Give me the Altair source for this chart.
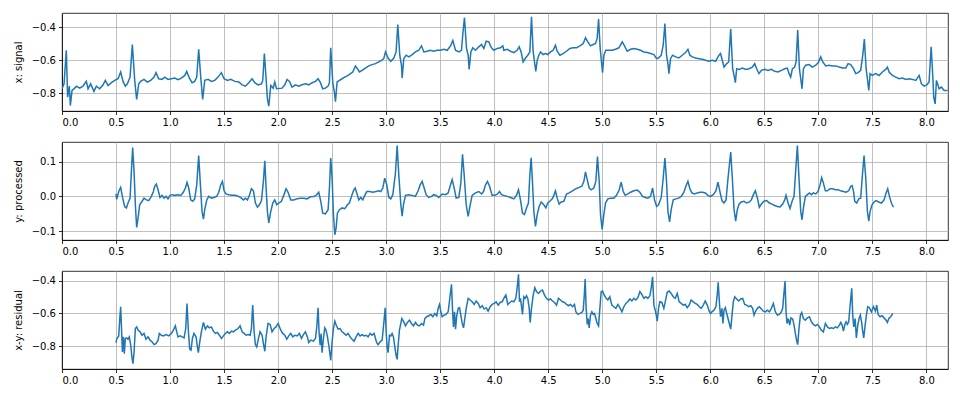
import altair as alt
import pandas as pd

# ---------------- data: x (signal) ----------------
T_SIG = [0.000,0.019,0.040,0.052,0.068,0.077,0.093,0.117,0.133,0.164,0.194,0.225,0.241,0.265,0.296,0.318,0.349,0.380,0.401,0.426,
         0.457,0.488,0.519,0.543,0.565,0.586,0.605,0.630,0.651,0.673,0.691,0.710,0.728,0.759,0.790,0.821,0.852,0.870,0.895,0.926,
         0.951,0.981,1.012,1.043,1.074,1.105,1.136,1.154,1.179,1.204,1.228,1.247,1.265,1.284,1.302,1.321,1.352,1.383,1.414,1.444,
         1.475,1.500,1.531,1.562,1.599,1.636,1.667,1.698,1.728,1.759,1.784,1.815,1.846,1.858,1.873,1.889,1.901,1.914,1.932,1.954,
         1.969,1.985,
         2.037,2.062,2.083,2.105,2.129,2.160,2.191,2.222,2.253,2.284,2.315,2.346,2.370,2.392,2.413,2.438,2.463,2.475,2.487,2.506,
         2.521,2.531,2.546,2.568,2.592,2.617,2.648,2.670,2.691,2.716,2.734,2.753,2.778,2.808,2.839,2.870,2.901,2.932,2.957,2.978,
         2.994,3.018,3.043,3.071,3.092,3.108,3.126,3.142,3.148,3.163,3.185,3.210,3.241,3.271,3.302,3.327,3.349,3.380,3.410,3.441,
         3.472,3.503,3.534,3.565,3.596,3.617,3.642,3.673,3.697,3.710,3.725,3.744,3.759,3.768,3.784,3.802,3.827,3.858,3.883,3.904,
         3.926,3.950,3.975,3.997,4.028,4.058,4.080,
         4.089,4.120,4.151,4.182,4.212,4.231,4.249,4.268,4.290,4.311,4.330,4.345,4.361,4.373,4.385,4.398,4.413,4.429,4.453,4.475,
         4.496,4.521,4.546,4.567,4.583,4.608,4.638,4.669,4.700,4.731,4.762,4.793,4.824,4.845,4.867,4.891,4.916,4.938,4.953,4.966,
         4.981,4.993,5.003,5.015,5.033,5.061,5.092,5.123,5.154,5.185,5.206,5.231,5.262,5.293,5.324,5.354,5.385,5.416,5.447,5.478,
         5.503,5.521,5.546,5.564,5.580,5.595,5.608,5.617,5.632,5.651,5.679,5.709,5.740,5.771,5.793,5.811,5.833,5.864,5.895,5.926,
         5.956,5.987,6.018,6.049,6.080,6.095,
         6.127,6.152,6.170,6.189,6.207,6.220,6.232,6.244,6.266,6.297,6.328,6.358,6.389,6.411,6.429,6.451,6.473,6.504,6.534,6.565,
         6.596,6.627,6.658,6.689,6.713,6.729,6.744,6.760,6.781,6.794,6.809,6.825,6.837,6.849,6.862,6.883,6.914,6.945,6.976,7.000,
         7.022,7.041,7.068,7.099,7.130,7.161,7.192,7.223,7.254,7.275,7.300,7.325,7.346,7.368,7.392,7.411,7.426,7.442,7.454,7.467,
         7.479,7.500,7.531,7.562,7.593,7.624,7.639,7.655,7.686,7.716,7.747,7.778,7.809,7.840,7.871,7.902,7.933,7.954,7.979,8.004,
         8.025,8.044,8.059,8.068,8.081,8.093,8.118,8.139,8.164,8.195]
V_SIG = [-0.773,-0.743,-0.539,-0.824,-0.757,-0.875,-0.783,-0.769,-0.757,-0.769,-0.757,-0.728,-0.773,-0.743,-0.789,-0.757,-0.773,-0.749,-0.722,-0.753,
         -0.736,-0.722,-0.712,-0.671,-0.728,-0.757,-0.743,-0.702,-0.504,-0.722,-0.838,-0.743,-0.728,-0.716,-0.732,-0.722,-0.702,-0.675,-0.712,-0.716,
         -0.702,-0.716,-0.712,-0.708,-0.718,-0.708,-0.692,-0.667,-0.708,-0.736,-0.728,-0.702,-0.533,-0.702,-0.838,-0.722,-0.716,-0.728,-0.722,-0.702,
         -0.675,-0.712,-0.722,-0.716,-0.728,-0.732,-0.749,-0.757,-0.736,-0.712,-0.736,-0.749,-0.743,-0.722,-0.559,-0.712,-0.834,-0.879,-0.753,-0.769,
         -0.732,-0.773,
         -0.769,-0.749,-0.716,-0.728,-0.763,-0.749,-0.757,-0.749,-0.743,-0.749,-0.736,-0.728,-0.712,-0.736,-0.773,-0.769,-0.757,-0.736,-0.524,-0.736,
         -0.794,-0.851,-0.732,-0.722,-0.712,-0.702,-0.692,-0.681,-0.671,-0.634,-0.651,-0.671,-0.661,-0.647,-0.634,-0.626,-0.620,-0.610,-0.600,-0.590,
         -0.549,-0.586,-0.606,-0.586,-0.549,-0.382,-0.569,-0.630,-0.708,-0.590,-0.569,-0.579,-0.565,-0.549,-0.539,-0.512,-0.549,-0.545,-0.539,-0.545,
         -0.539,-0.539,-0.533,-0.539,-0.512,-0.480,-0.539,-0.549,-0.539,-0.437,-0.341,-0.528,-0.569,-0.655,-0.549,-0.524,-0.539,-0.518,-0.504,-0.528,
         -0.484,-0.488,-0.524,-0.539,-0.528,-0.524,-0.512,
         -0.539,-0.533,-0.545,-0.553,-0.539,-0.518,-0.549,-0.610,-0.586,-0.569,-0.549,-0.335,-0.549,-0.610,-0.667,-0.600,-0.569,-0.549,-0.565,-0.559,
         -0.565,-0.549,-0.539,-0.508,-0.545,-0.569,-0.559,-0.545,-0.528,-0.524,-0.524,-0.512,-0.498,-0.463,-0.488,-0.512,-0.504,-0.498,-0.467,-0.349,
         -0.528,-0.610,-0.675,-0.569,-0.539,-0.539,-0.539,-0.533,-0.524,-0.488,-0.512,-0.545,-0.533,-0.528,-0.533,-0.539,-0.549,-0.553,-0.559,-0.565,
         -0.590,-0.586,-0.569,-0.508,-0.376,-0.569,-0.620,-0.681,-0.590,-0.569,-0.579,-0.586,-0.569,-0.553,-0.533,-0.569,-0.579,-0.586,-0.590,-0.594,
         -0.600,-0.606,-0.600,-0.606,-0.569,-0.559,
         -0.641,-0.620,-0.610,-0.410,-0.651,-0.692,-0.736,-0.651,-0.655,-0.647,-0.655,-0.651,-0.641,-0.620,-0.651,-0.681,-0.661,-0.655,-0.661,-0.655,
         -0.667,-0.671,-0.661,-0.651,-0.647,-0.681,-0.702,-0.651,-0.641,-0.610,-0.416,-0.651,-0.712,-0.773,-0.651,-0.630,-0.626,-0.641,-0.630,-0.614,
         -0.579,-0.610,-0.634,-0.630,-0.634,-0.634,-0.641,-0.647,-0.647,-0.620,-0.626,-0.651,-0.681,-0.675,-0.661,-0.569,-0.471,-0.651,-0.712,-0.783,
         -0.681,-0.692,-0.681,-0.692,-0.671,-0.655,-0.641,-0.671,-0.692,-0.702,-0.712,-0.708,-0.716,-0.712,-0.716,-0.722,-0.692,-0.743,-0.757,-0.749,
         -0.732,-0.518,-0.692,-0.824,-0.865,-0.722,-0.773,-0.763,-0.783,-0.783]

# ---------------- data: y (processed) ----------------
T_PROC = [0.500,0.506,0.525,0.543,0.562,0.580,0.596,0.611,0.630,0.642,0.654,0.667,0.679,0.691,0.704,0.719,0.741,0.759,0.781,0.802,
          0.827,0.846,0.858,0.873,0.889,0.907,0.926,0.944,0.963,0.981,1.000,1.019,1.043,1.074,1.099,1.123,1.142,1.157,1.173,1.191,
          1.210,1.228,1.247,1.265,1.281,1.296,1.309,1.321,1.340,1.358,1.383,1.407,1.432,1.451,1.469,1.485,1.500,1.519,1.543,1.574,
          1.605,1.636,1.660,1.679,1.698,1.716,1.735,1.753,1.772,1.790,1.809,1.827,1.846,1.864,1.877,1.889,1.901,1.914,1.932,1.951,
          1.969,1.988,2.006,2.031,
          2.052,2.074,2.092,2.117,2.145,2.176,2.207,2.237,2.268,2.299,2.330,2.352,2.376,2.395,2.413,2.438,2.463,2.475,2.487,2.500,
          2.512,2.525,2.537,2.549,2.568,2.592,2.617,2.642,2.660,2.679,2.697,2.713,2.728,2.747,2.765,2.784,2.802,2.821,2.846,2.876,
          2.907,2.932,2.950,2.969,2.987,3.006,3.025,3.043,3.062,3.086,3.102,3.117,3.136,3.148,3.160,3.179,3.210,3.241,3.271,3.296,
          3.315,3.333,3.352,3.370,3.395,3.420,3.441,3.463,3.487,3.518,3.549,3.574,3.592,3.611,3.630,3.648,3.673,3.691,3.707,3.722,
          3.741,3.759,3.778,3.796,3.827,3.858,3.883,3.901,3.920,3.938,3.957,3.981,4.006,4.031,4.049,4.068,
          4.089,4.120,4.151,4.182,4.206,4.225,4.243,4.262,4.280,4.299,4.317,4.330,4.342,4.354,4.367,4.382,4.398,4.416,4.435,4.459,
          4.478,4.496,4.515,4.537,4.552,4.567,4.583,4.601,4.620,4.645,4.669,4.694,4.725,4.756,4.787,4.811,4.830,4.845,4.861,4.879,
          4.898,4.922,4.941,4.956,4.972,4.984,4.999,5.015,5.030,5.052,5.077,5.107,5.132,5.157,5.175,5.194,5.212,5.237,5.262,5.293,
          5.324,5.348,5.373,5.398,5.422,5.447,5.466,5.484,5.503,5.521,5.546,5.564,5.580,5.595,5.608,5.623,5.638,5.657,5.682,5.706,
          5.731,5.756,5.774,5.793,5.811,5.830,5.854,5.879,5.904,5.929,5.953,5.978,6.003,6.027,6.052,6.071,6.089,6.108,6.126,
          6.146,6.164,6.189,6.204,6.220,6.235,6.250,6.266,6.287,6.312,6.337,6.362,6.380,6.399,6.417,6.436,6.454,6.473,6.497,6.522,
          6.547,6.571,6.596,6.621,6.646,6.670,6.689,6.701,6.720,6.738,6.757,6.775,6.788,6.806,6.821,6.837,6.849,6.862,6.880,6.899,
          6.917,6.936,6.954,6.976,6.997,7.016,7.031,7.047,7.065,7.084,7.108,7.133,7.158,7.183,7.207,7.232,7.257,7.281,7.300,7.312,
          7.325,7.337,7.355,7.374,7.392,7.408,7.423,7.439,7.454,7.467,7.479,7.497,7.516,7.534,7.559,7.584,7.608,7.627,7.642,7.658,
          7.676,7.695]
V_PROC = [0.007,-0.008,0.014,0.026,-0.005,-0.029,-0.033,-0.019,-0.005,0.071,0.140,0.071,-0.024,-0.089,-0.062,-0.024,-0.014,-0.005,-0.010,-0.012,
          0.000,0.014,0.029,0.035,0.019,-0.003,0.003,-0.005,0.000,-0.007,0.003,0.005,0.003,0.005,0.003,0.012,0.024,0.040,0.024,-0.010,
          -0.014,-0.007,0.033,0.117,0.033,-0.043,-0.065,-0.038,-0.010,0.000,-0.005,-0.003,0.000,0.012,0.033,0.043,0.016,0.007,0.005,0.003,
          0.003,0.000,-0.005,-0.010,-0.005,-0.010,0.003,0.022,0.016,-0.019,-0.031,-0.024,-0.012,0.043,0.102,0.024,-0.043,-0.076,-0.043,-0.019,
          -0.010,-0.024,-0.019,-0.014,
          0.003,0.022,0.012,-0.010,-0.010,-0.007,-0.005,-0.005,-0.007,-0.001,0.000,0.003,0.012,-0.014,-0.048,-0.050,-0.038,0.024,0.110,0.052,
          -0.052,-0.110,-0.090,-0.048,-0.038,-0.033,-0.035,-0.024,-0.019,0.000,0.016,0.024,0.010,-0.010,-0.003,-0.010,0.003,0.014,0.014,0.012,
          0.014,0.016,0.014,0.024,0.052,0.033,-0.003,-0.007,0.005,0.067,0.146,0.062,-0.024,-0.057,-0.024,0.003,0.005,0.003,0.000,0.016,
          0.033,0.043,0.024,0.005,-0.003,0.000,0.005,0.003,-0.003,0.007,0.005,0.010,0.029,0.048,0.024,-0.005,-0.003,0.038,0.121,0.062,
          -0.024,-0.057,-0.024,0.003,0.010,0.014,0.007,0.014,0.033,0.043,0.029,0.003,0.003,0.007,0.014,0.005,
          0.003,0.000,-0.003,-0.007,0.003,0.019,-0.010,-0.048,-0.052,-0.033,-0.019,0.062,0.111,0.043,-0.043,-0.086,-0.052,-0.029,-0.016,-0.024,
          -0.033,-0.019,-0.014,-0.007,0.003,0.016,-0.005,-0.022,-0.016,-0.014,0.007,0.010,0.016,0.022,0.026,0.029,0.043,0.070,0.048,0.024,
          0.019,0.024,0.043,0.114,0.043,-0.052,-0.095,-0.052,-0.019,-0.007,-0.005,-0.005,0.003,0.019,0.041,0.014,0.003,0.007,0.012,0.016,
          0.018,0.012,0.000,-0.003,-0.005,0.000,0.024,-0.010,-0.029,-0.024,-0.003,0.052,0.110,0.043,-0.043,-0.073,-0.038,-0.010,-0.007,-0.005,
          0.000,0.012,0.029,0.043,0.022,0.010,0.007,0.010,0.012,0.012,0.010,0.003,0.000,0.005,0.016,0.041,0.014,-0.012,-0.019,
          -0.010,0.052,0.127,0.052,-0.038,-0.071,-0.038,-0.022,-0.016,-0.014,-0.019,-0.016,-0.010,0.005,0.016,-0.005,-0.031,-0.022,-0.014,-0.012,
          -0.019,-0.022,-0.026,-0.029,-0.030,-0.022,-0.010,0.003,-0.019,-0.035,-0.014,0.000,0.062,0.146,0.052,-0.043,-0.067,-0.033,0.000,0.005,
          0.010,0.005,0.010,0.007,0.014,0.033,0.054,0.038,0.016,0.016,0.022,0.022,0.019,0.019,0.016,0.014,0.012,0.016,0.029,0.031,
          0.016,-0.014,-0.019,-0.007,-0.005,0.062,0.117,0.052,-0.043,-0.071,-0.043,-0.024,-0.016,-0.012,-0.016,-0.019,-0.010,0.010,0.022,0.000,
          -0.019,-0.031]

# ---------------- data: x - y (residual) ----------------
T_RES = [0.500,0.506,0.525,0.534,0.543,0.552,0.559,0.568,0.577,0.586,0.599,0.611,0.623,0.636,0.648,0.657,0.667,0.679,0.691,0.704,
         0.722,0.741,0.759,0.778,0.796,0.815,0.833,0.852,0.870,0.889,0.901,0.920,0.938,0.963,0.988,1.012,1.031,1.049,1.062,1.074,
         1.093,1.111,1.130,1.145,1.157,1.170,1.182,1.194,1.207,1.222,1.241,1.253,1.262,1.275,1.290,1.309,1.327,1.346,1.364,1.383,
         1.401,1.420,1.438,1.457,1.475,1.494,1.512,1.531,1.549,1.568,1.586,1.605,1.630,1.648,1.667,1.685,1.704,1.722,1.741,1.753,
         1.765,1.778,1.790,1.802,1.815,1.833,1.852,1.864,1.877,1.889,1.907,1.926,1.944,1.963,1.981,2.000,
         2.025,2.043,2.062,2.080,2.099,2.117,2.136,2.154,2.176,2.197,2.216,2.234,2.253,2.271,2.284,2.302,2.327,2.346,2.358,2.370,
         2.379,2.389,2.398,2.407,2.420,2.432,2.444,2.457,2.469,2.481,2.487,2.500,2.512,2.525,2.537,2.555,2.574,2.592,2.611,2.629,
         2.648,2.666,2.685,2.703,2.722,2.741,2.759,2.778,2.796,2.815,2.833,2.852,2.870,2.889,2.901,2.913,2.926,2.944,2.963,2.978,
         2.991,3.000,3.009,3.018,3.031,3.043,3.055,3.068,3.080,3.092,3.102,3.111,3.123,3.136,3.145,3.160,3.179,3.197,3.216,3.234,
         3.253,3.271,3.290,3.308,3.327,3.346,3.358,3.376,3.395,3.414,3.432,3.451,3.469,3.481,3.494,3.506,3.518,3.537,3.555,3.574,
         3.589,3.605,3.614,3.623,3.633,3.642,3.654,3.667,3.679,3.691,3.704,3.716,3.728,3.741,3.759,3.778,3.796,3.815,3.833,3.852,
         3.870,3.889,3.907,3.926,3.944,3.963,3.981,4.000,4.018,4.037,4.055,4.074,
         4.089,4.108,4.126,4.145,4.163,4.182,4.200,4.212,4.225,4.234,4.243,4.253,4.262,4.274,4.287,4.299,4.311,4.324,4.333,4.345,
         4.361,4.376,4.391,4.410,4.429,4.447,4.466,4.484,4.503,4.521,4.540,4.558,4.577,4.595,4.614,4.632,4.651,4.669,4.688,4.706,
         4.725,4.743,4.756,4.774,4.793,4.811,4.824,4.833,4.842,4.851,4.861,4.870,4.879,4.891,4.904,4.916,4.929,4.941,4.953,4.966,
         4.978,4.990,5.003,5.015,5.033,5.052,5.070,5.089,5.107,5.126,5.145,5.163,5.182,5.200,5.219,5.237,5.256,5.274,5.293,5.311,
         5.330,5.348,5.367,5.385,5.404,5.422,5.441,5.453,5.466,5.478,5.490,5.500,5.509,5.521,5.533,5.552,5.570,5.583,5.601,5.620,
         5.638,5.657,5.675,5.694,5.712,5.731,5.749,5.768,5.786,5.805,5.823,5.842,5.861,5.879,5.898,5.916,5.935,5.953,5.972,5.990,
         6.003,6.015,6.034,6.052,6.064,6.073,6.086,6.095,6.108,6.117,
         6.127,6.139,6.152,6.164,6.176,6.189,6.201,6.213,6.226,6.244,6.263,6.281,6.300,6.318,6.337,6.355,6.374,6.392,6.405,6.417,
         6.436,6.454,6.473,6.491,6.510,6.528,6.547,6.565,6.584,6.602,6.621,6.639,6.658,6.670,6.683,6.692,6.701,6.710,6.723,6.735,
         6.747,6.763,6.775,6.787,6.800,6.809,6.821,6.834,6.846,6.862,6.880,6.899,6.917,6.936,6.954,6.973,6.991,7.010,7.028,7.047,
         7.065,7.084,7.102,7.121,7.139,7.158,7.176,7.195,7.207,7.220,7.232,7.244,7.257,7.269,7.281,7.297,7.309,7.318,7.328,7.340,
         7.352,7.365,7.377,7.389,7.402,7.411,7.420,7.433,7.445,7.457,7.473,7.491,7.510,7.528,7.540,7.553,7.571,7.590,7.608,7.627,
         7.639,7.652,7.670,7.689]
V_RES = [-0.778,-0.757,-0.737,-0.641,-0.559,-0.712,-0.835,-0.743,-0.845,-0.753,-0.749,-0.757,-0.743,-0.794,-0.871,-0.906,-0.835,-0.692,-0.682,-0.702,
         -0.712,-0.733,-0.722,-0.757,-0.743,-0.763,-0.773,-0.790,-0.784,-0.763,-0.722,-0.733,-0.737,-0.729,-0.737,-0.722,-0.702,-0.676,-0.712,-0.743,
         -0.737,-0.743,-0.749,-0.692,-0.539,-0.712,-0.818,-0.824,-0.753,-0.722,-0.743,-0.804,-0.839,-0.773,-0.712,-0.655,-0.696,-0.676,-0.688,-0.682,
         -0.708,-0.722,-0.716,-0.733,-0.753,-0.737,-0.722,-0.712,-0.722,-0.708,-0.712,-0.702,-0.692,-0.676,-0.712,-0.722,-0.733,-0.729,-0.733,-0.692,
         -0.549,-0.712,-0.790,-0.804,-0.763,-0.712,-0.733,-0.784,-0.831,-0.743,-0.661,-0.667,-0.712,-0.692,-0.682,-0.661,
         -0.702,-0.722,-0.733,-0.757,-0.737,-0.722,-0.743,-0.733,-0.737,-0.722,-0.753,-0.729,-0.712,-0.743,-0.778,-0.763,-0.769,-0.753,-0.682,-0.565,
         -0.712,-0.794,-0.722,-0.839,-0.749,-0.688,-0.702,-0.743,-0.794,-0.855,-0.886,-0.773,-0.692,-0.647,-0.671,-0.696,-0.692,-0.712,-0.722,-0.733,
         -0.722,-0.743,-0.757,-0.769,-0.743,-0.722,-0.737,-0.729,-0.737,-0.733,-0.743,-0.722,-0.733,-0.722,-0.753,-0.778,-0.790,-0.773,-0.763,-0.661,
         -0.565,-0.712,-0.804,-0.839,-0.733,-0.737,-0.722,-0.743,-0.804,-0.855,-0.880,-0.794,-0.702,-0.661,-0.631,-0.647,-0.676,-0.655,-0.641,-0.661,
         -0.676,-0.655,-0.671,-0.676,-0.661,-0.671,-0.631,-0.620,-0.614,-0.606,-0.620,-0.600,-0.614,-0.569,-0.545,-0.590,-0.620,-0.610,-0.606,-0.590,
         -0.508,-0.422,-0.569,-0.682,-0.590,-0.696,-0.610,-0.569,-0.565,-0.610,-0.661,-0.688,-0.631,-0.569,-0.508,-0.518,-0.529,-0.545,-0.524,-0.539,
         -0.565,-0.553,-0.573,-0.565,-0.586,-0.559,-0.545,-0.539,-0.529,-0.549,-0.533,-0.529,
         -0.508,-0.488,-0.545,-0.533,-0.524,-0.529,-0.508,-0.447,-0.361,-0.529,-0.508,-0.559,-0.606,-0.498,-0.508,-0.492,-0.508,-0.569,-0.655,-0.569,
         -0.488,-0.443,-0.467,-0.478,-0.463,-0.457,-0.488,-0.508,-0.518,-0.512,-0.524,-0.533,-0.549,-0.508,-0.518,-0.529,-0.533,-0.545,-0.553,-0.545,
         -0.559,-0.545,-0.590,-0.606,-0.600,-0.594,-0.580,-0.498,-0.390,-0.569,-0.667,-0.631,-0.688,-0.610,-0.590,-0.606,-0.600,-0.631,-0.661,-0.676,
         -0.569,-0.467,-0.463,-0.484,-0.504,-0.518,-0.498,-0.549,-0.559,-0.569,-0.545,-0.565,-0.590,-0.559,-0.539,-0.529,-0.512,-0.524,-0.508,-0.518,
         -0.504,-0.467,-0.484,-0.508,-0.498,-0.508,-0.492,-0.447,-0.376,-0.549,-0.580,-0.610,-0.647,-0.569,-0.529,-0.533,-0.569,-0.529,-0.471,-0.463,
         -0.478,-0.498,-0.508,-0.478,-0.529,-0.539,-0.549,-0.545,-0.565,-0.549,-0.518,-0.529,-0.539,-0.545,-0.559,-0.569,-0.549,-0.524,-0.549,-0.586,
         -0.600,-0.590,-0.580,-0.559,-0.488,-0.410,-0.549,-0.620,-0.569,-0.661,
         -0.580,-0.565,-0.600,-0.631,-0.661,-0.696,-0.610,-0.529,-0.498,-0.512,-0.524,-0.512,-0.508,-0.545,-0.549,-0.559,-0.553,-0.569,-0.610,-0.590,
         -0.569,-0.559,-0.573,-0.586,-0.590,-0.580,-0.590,-0.569,-0.539,-0.590,-0.610,-0.606,-0.590,-0.569,-0.467,-0.402,-0.590,-0.661,-0.631,-0.671,
         -0.627,-0.635,-0.671,-0.722,-0.769,-0.790,-0.692,-0.610,-0.594,-0.631,-0.641,-0.627,-0.620,-0.651,-0.667,-0.676,-0.667,-0.682,-0.702,-0.712,
         -0.661,-0.682,-0.692,-0.688,-0.692,-0.682,-0.688,-0.671,-0.655,-0.671,-0.708,-0.671,-0.651,-0.667,-0.651,-0.529,-0.447,-0.610,-0.682,-0.631,
         -0.749,-0.671,-0.631,-0.610,-0.661,-0.712,-0.749,-0.671,-0.610,-0.559,-0.565,-0.590,-0.559,-0.586,-0.549,-0.606,-0.620,-0.614,-0.627,-0.641,
         -0.655,-0.631,-0.620,-0.600]

X_TICKS = [0.0, 0.5, 1.0, 1.5, 2.0, 2.5, 3.0, 3.5, 4.0, 4.5, 5.0, 5.5, 6.0, 6.5, 7.0, 7.5, 8.0]
X_DOMAIN = [0.0, 8.2]

PANELS = [
    ("x: signal", T_SIG, V_SIG, [-0.908, -0.3125], [-0.8, -0.6, -0.4]),
    ("y: processed", T_PROC, V_PROC, [-0.125, 0.156], [-0.1, 0.0, 0.1]),
    ("x-y: residual", T_RES, V_RES, [-0.939, -0.341], [-0.8, -0.6, -0.4]),
]

LINE_COLOR = "#1f77b4"


def panel(title, t, v, ydom, yticks):
    df = pd.DataFrame({"t": t, "v": v})
    return (
        alt.Chart(df)
        .mark_line(color=LINE_COLOR, strokeWidth=1.5, clip=True)
        .encode(
            x=alt.X(
                "t:Q",
                scale=alt.Scale(domain=X_DOMAIN, nice=False, zero=False),
                axis=alt.Axis(values=X_TICKS, format=".1f", title=None),
            ),
            y=alt.Y(
                "v:Q",
                scale=alt.Scale(domain=ydom, nice=False, zero=False),
                axis=alt.Axis(values=yticks, format=".1f", title=title),
            ),
        )
        .properties(width=886, height=98)
    )


chart = (
    alt.vconcat(*[panel(*p) for p in PANELS], spacing=13)
    .properties(background="white", padding={"left": 12, "top": 12, "right": 5, "bottom": 5})
    .configure_view(stroke="black", strokeWidth=0.8)
    .configure_axis(
        grid=True,
        gridColor="#b0b0b0",
        gridWidth=0.8,
        domainColor="black",
        domainWidth=0.8,
        tickColor="black",
        tickWidth=0.8,
        tickSize=3.5,
        labelFont="DejaVu Sans",
        labelFontSize=10,
        labelColor="black",
        labelPadding=3,
        titleFont="DejaVu Sans",
        titleFontSize=10,
        titleFontWeight="normal",
        titleColor="black",
        titlePadding=8,
    )
)

chart.save("out.html", embed_options={"renderer": "svg", "actions": False})
